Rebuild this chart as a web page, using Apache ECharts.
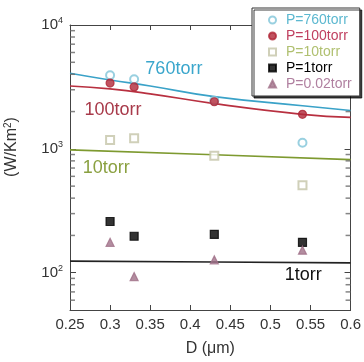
<!DOCTYPE html>
<html>
<head>
<meta charset="utf-8">
<script src="https://cdn.jsdelivr.net/npm/echarts@6/dist/echarts.min.js"></script>
<style>
  html, body { margin: 0; padding: 0; background: #fff; }
  #chart { width: 364px; height: 362px; }
</style>
</head>
<body>
<div id="chart"></div>
<script>
// measured points, D in um
var diam = [0.3, 0.33, 0.43, 0.54];
var p760 = [3930, 3650, 2450, 1120];
var p100 = [3400, 3160, 2400, 1900];
var p10 = [1180, 1220, 880, 508];
var p1 = [259, 197, 204, 176];
var p002 = [176, 93, 127, 152];

// model curves
var fitD = [0.25, 0.3, 0.35, 0.43, 0.54, 0.6];
var fit760 = [4080, 3600, 3220, 2640, 2230, 2040];
var fit100 = [3220, 3050, 2780, 2320, 1900, 1795];
var fitD10 = [0.25, 0.43, 0.6];
var fit10 = [982, 896, 818];
var fit1 = [124, 122, 120];

var xTicks = ['0.25', '0.3', '0.35', '0.4', '0.45', '0.5', '0.55', '0.6'];
var minorY = [60, 70, 80, 90, 200, 300, 400, 500, 600, 700, 800, 900,
              2000, 3000, 4000, 5000, 6000, 7000, 8000, 9000];

var FONT = "'Liberation Sans', Arial, sans-serif";

function zip(xs, ys) {
  var out = [];
  for (var i = 0; i < xs.length; i++) out.push([xs[i], ys[i]]);
  return out;
}

function powLabel(v) {
  var e = Math.round(Math.log10(v));
  if (Math.abs(Math.pow(10, e) - v) > 1e-6 * v) return '';
  return '{b|10}{s|' + e + '}';
}

function fitLine(name, data, color, tag) {
  return {
    name: name,
    type: 'line',
    data: data,
    smooth: true,
    showSymbol: false,
    silent: true,
    lineStyle: { color: color, width: 1.6 },
    z: 2,
    markPoint: {
      symbol: 'circle',
      symbolSize: 0,
      silent: true,
      data: [{
        coord: tag.at,
        label: {
          show: true, position: 'right', distance: 0,
          formatter: tag.text, color: tag.color,
          fontSize: 18, fontFamily: FONT
        }
      }]
    }
  };
}

function points(name, data, symbol, color, size) {
  return {
    name: name,
    type: 'scatter',
    data: data,
    symbol: symbol,
    symbolSize: size,
    itemStyle: { color: color, borderColor: color, borderWidth: 1.2 },
    z: 5
  };
}

// little log-scale ticks along the left and right frame
function minorTicks(x, off) {
  return {
    type: 'scatter',
    data: minorY.map(function (v) { return [x, v]; }),
    symbol: 'rect',
    symbolSize: [5, 1.5],
    symbolOffset: [off, 0],
    itemStyle: { color: '#666' },
    clip: false,
    silent: true,
    z: 6
  };
}

var chart = echarts.init(document.getElementById('chart'));

var yAxisBase = {
  type: 'log',
  min: 50,
  max: 10000,
  logBase: 10,
  axisLine: { show: true, lineStyle: { color: '#444', width: 1 } },
  axisTick: { show: true, inside: true, length: 6, lineStyle: { color: '#444' } },
  splitLine: { show: false }
};

var xAxisBase = {
  type: 'value',
  min: 0.25,
  max: 0.6,
  interval: 0.05,
  axisLine: { show: true, onZero: false, lineStyle: { color: '#444', width: 1 } },
  axisTick: { show: true, inside: true, length: 5, lineStyle: { color: '#444' } },
  splitLine: { show: false }
};

var option = {
  animation: false,
  grid: { left: 70, right: 7, top: 25, bottom: 50 },
  xAxis: [
    Object.assign({}, xAxisBase, {
      position: 'bottom',
      name: 'D (\u03bcm)',
      nameLocation: 'middle',
      nameGap: 31,
      nameTextStyle: { fontSize: 16, color: '#333', fontFamily: FONT },
      axisLabel: {
        margin: 7, fontSize: 15, color: '#333', fontFamily: FONT,
        formatter: function (v) {
          var i = Math.round((v - 0.25) / 0.05);
          return xTicks[i] || '';
        }
      }
    }),
    Object.assign({}, xAxisBase, {
      position: 'top',
      axisLabel: { show: false }
    })
  ],
  yAxis: [
    Object.assign({}, yAxisBase, {
      position: 'left',
      axisLabel: {
        margin: 7, fontFamily: FONT,
        formatter: powLabel,
        rich: {
          b: { fontSize: 15, color: '#333', fontFamily: FONT },
          s: { fontSize: 9, color: '#333', fontFamily: FONT, padding: [0, 0, 9, 0] }
        }
      }
    }),
    Object.assign({}, yAxisBase, {
      position: 'right',
      axisLabel: { show: false }
    })
  ],
  legend: {
    orient: 'vertical',
    left: 252,
    top: 8,
    padding: [5, 8, 5, 16],
    itemWidth: 7,
    itemHeight: 7,
    itemGap: 2,
    backgroundColor: '#fff',
    borderColor: '#333',
    borderWidth: 1,
    shadowColor: 'rgba(0,0,0,0.75)',
    shadowOffsetX: 2,
    shadowOffsetY: 2,
    shadowBlur: 0,
    textStyle: { fontSize: 14, fontFamily: FONT, lineHeight: 14, padding: [0, 0, 0, 5] },
    data: [
      { name: 'P=760torr', textStyle: { color: '#5cb8d0' } },
      { name: 'P=100torr', textStyle: { color: '#c04060' } },
      { name: 'P=10torr', textStyle: { color: '#b0c070' } },
      { name: 'P=1torr', textStyle: { color: '#000' } },
      { name: 'P=0.02torr', textStyle: { color: '#b080a0' } }
    ],
    z: 10
  },
  graphic: [{
    type: 'text',
    x: 12,
    y: 147,
    rotation: Math.PI / 2,
    style: {
      text: '(W/Km{s|2})',
      fontSize: 16,
      fontFamily: FONT,
      fill: '#333',
      align: 'center',
      verticalAlign: 'middle',
      rich: { s: { fontSize: 10, fill: '#333', padding: [0, 0, 8, 0] } }
    }
  }],
  series: [
    fitLine('fit760', zip(fitD, fit760), '#3aa2c8',
      { at: [0.344, 4400], text: '760torr', color: '#3aa6cc' }),
    fitLine('fit100', zip(fitD, fit100), '#b83040',
      { at: [0.268, 2040], text: '100torr', color: '#a83a4a' }),
    fitLine('fit10', zip(fitD10, fit10), '#7e9a30',
      { at: [0.266, 706], text: '10torr', color: '#8aa040' }),
    fitLine('fit1', zip(fitD10, fit1), '#222',
      { at: [0.518, 96], text: '1torr', color: '#111' }),
    points('P=760torr', zip(diam, p760), 'emptyCircle', '#80c4d8', 8),
    points('P=100torr', zip(diam, p100), 'circle', '#b02838', 8),
    points('P=10torr', zip(diam, p10), 'emptyRect', '#c4c4a8', 8),
    points('P=1torr', zip(diam, p1), 'rect', '#000', 8),
    points('P=0.02torr', zip(diam, p002), 'triangle', '#a07088', 8),
    minorTicks(0.25, 2.5),
    minorTicks(0.6, -2.5)
  ]
};

chart.setOption(option);
</script>
</body>
</html>
